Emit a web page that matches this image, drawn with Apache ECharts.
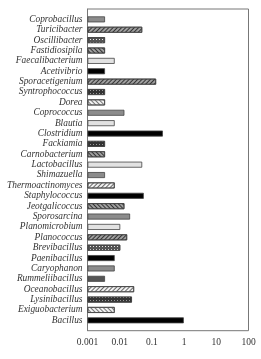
<!DOCTYPE html>
<html>
<head>
<meta charset="utf-8">
<script src="https://cdn.jsdelivr.net/npm/echarts@6/dist/echarts.min.js"></script>
<style>
  html, body { margin: 0; padding: 0; background: #fff; }
  #chart { width: 261px; height: 359px; }
</style>
</head>
<body>
<div id="chart"></div>
<script>
// genera, top to bottom
const genera = [
  'Coprobacillus', 'Turicibacter', 'Oscillibacter', 'Fastidiosipila', 'Faecalibacterium',
  'Acetivibrio', 'Sporacetigenium', 'Syntrophococcus', 'Dorea', 'Coprococcus',
  'Blautia', 'Clostridium', 'Fackiamia', 'Carnobacterium', 'Lactobacillus',
  'Shimazuella', 'Thermoactinomyces', 'Staphylococcus', 'Jeotgalicoccus', 'Sporosarcina',
  'Planomicrobium', 'Planococcus', 'Brevibacillus', 'Paenibacillus', 'Caryophanon',
  'Rummeliibacillus', 'Oceanobacillus', 'Lysinibacillus', 'Exiguobacterium', 'Bacillus'
]
const abundance = [
  0.0035, 0.05, 0.0035, 0.0035, 0.007,
  0.0035, 0.135, 0.0035, 0.0035, 0.014,
  0.007, 0.22, 0.0035, 0.0035, 0.05,
  0.0035, 0.007, 0.056, 0.014, 0.021,
  0.0104, 0.017, 0.0104, 0.007, 0.007,
  0.0035, 0.028, 0.024, 0.007, 0.98
]
const xTicks = [0.001, 0.01, 0.1, 1, 10, 100]

// fill pattern of each bar
const fills = [
  'gray', 'back', 'check', 'fwd', 'light',
  'black', 'back', 'checkDark', 'fwdLight', 'gray',
  'light', 'black', 'checkDark', 'fwd', 'light',
  'gray', 'backLight', 'black', 'fwd', 'gray',
  'light', 'back', 'check', 'black', 'gray',
  'dark', 'backLight', 'checkDark', 'fwdLight', 'black'
]

const hatch = (rot, fg, bg) => ({
  color: bg,
  decal: { symbol: 'rect', symbolSize: 1, dashArrayX: [1, 0], dashArrayY: [1, 1.5], rotation: rot, color: fg }
})
const check = (fg, bg) => ({
  color: bg,
  decal: { symbol: 'rect', symbolSize: 1, dashArrayX: [1, 1.2], dashArrayY: [1, 1.2], rotation: 0, color: fg }
})
const styles = {
  gray: { color: '#8c8c8c' },
  dark: { color: '#555' },
  light: { color: '#e2e2e2' },
  black: { color: '#000' },
  back: hatch(-Math.PI / 4, '#333', '#a0a0a0'),
  backLight: hatch(-Math.PI / 4, '#666', '#f2f2f2'),
  fwd: hatch(Math.PI / 4, '#333', '#a0a0a0'),
  fwdLight: hatch(Math.PI / 4, '#777', '#f2f2f2'),
  check: check('#e8e8e8', '#555'),
  checkDark: check('#999', '#333')
}

const cats = [''].concat(genera, [''])
const data = [null].concat(abundance.map((v, i) => ({
  value: v,
  itemStyle: Object.assign({ borderColor: '#444', borderWidth: 0.8 }, styles[fills[i]])
})), [null])

const chart = echarts.init(document.getElementById('chart'))
chart.setOption({
  animation: false,
  grid: {
    left: 87.5, right: 12.5, top: 9, bottom: 28.3,
    containLabel: false,
    outerBoundsMode: 'none',
    show: true, borderColor: '#777', borderWidth: 1
  },
  xAxis: {
    type: 'log',
    logBase: 10,
    min: 0.001,
    max: 100,
    startValue: 0.001,
    splitLine: { show: false },
    axisLine: { lineStyle: { color: '#777' } },
    axisTick: { inside: true, length: 3, lineStyle: { color: '#777' } },
    minorTick: { show: false },
    axisLabel: {
      margin: 7,
      fontFamily: 'Liberation Serif',
      fontSize: 9.5,
      color: '#333',
      formatter: (v) => String(xTicks.find((t) => Math.abs(Math.log10(t) - Math.log10(v)) < 1e-6) ?? v)
    }
  },
  yAxis: {
    type: 'category',
    inverse: true,
    boundaryGap: false,
    data: cats,
    axisLine: { lineStyle: { color: '#777' } },
    axisTick: { show: false },
    axisLabel: {
      interval: 0,
      margin: 5,
      fontFamily: 'Liberation Serif',
      fontStyle: 'italic',
      fontSize: 9.4,
      color: '#333'
    }
  },
  series: [{
    type: 'bar',
    barWidth: 6,
    data: data
  }]
})
</script>
</body>
</html>
